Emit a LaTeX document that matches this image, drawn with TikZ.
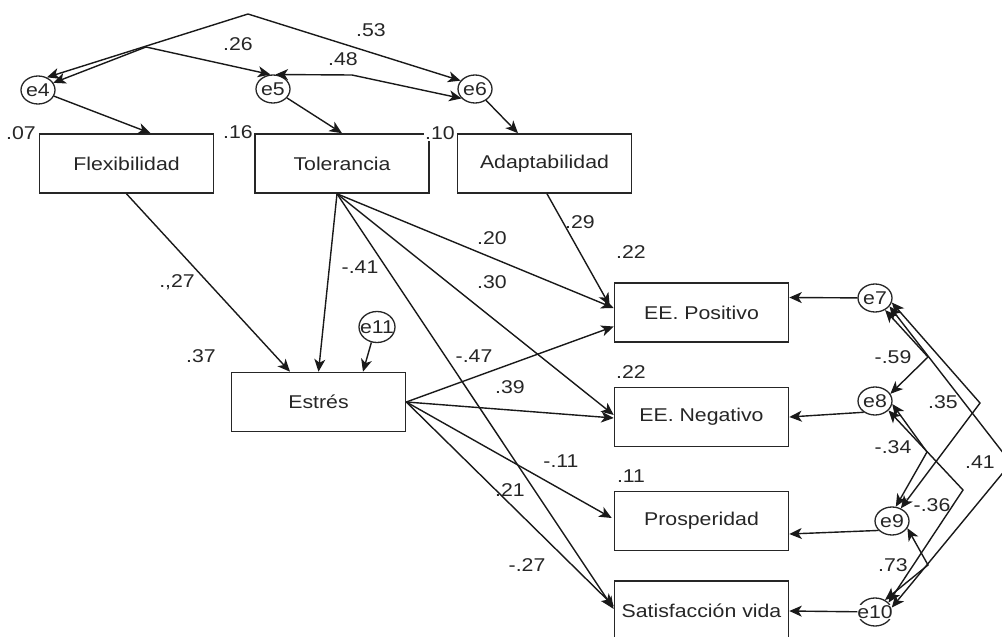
\documentclass[tikz,border=0pt]{standalone}
\usepackage{fontspec}
\setmainfont{Liberation Sans}[FakeStretch=1.15]
\usetikzlibrary{arrows.meta,calc,shapes.geometric}
\begin{document}
\begin{tikzpicture}[x=1pt,y=-1pt,
  every node/.style={font=\fontsize{18.5}{20}\selectfont, inner sep=0pt, text=black!85},
  box/.style={draw=black!85, line width=1.6pt, minimum width=174pt, minimum height=59pt},
  err/.style={draw=black!85, ellipse, line width=1.3pt, minimum width=34pt, minimum height=28pt},
  etxt/.style={inner sep=0pt},
  lab/.style={},
  tip/.tip={Stealth[length=12.5pt,width=11pt,inset=3.5pt]},
  arr/.style={draw=black!90, line width=1.4pt, -tip},
  cov/.style={draw=black!90, line width=1.4pt, tip-tip},
]
\useasboundingbox (0,0) rectangle (1002,637);
\clip (0,0) rectangle (1002,637);

% boxes
\node[box] (flex)  at (126.5,163.5) {Flexibilidad};
\node[box] (tol)   at (342,163.5) {Tolerancia};
\node[box] (adapt) at (544.5,163.5) {Adaptabilidad};
\node[box] (estres) at (318.5,402) {Estrés};
\node[box] (pos)  at (701.5,312.5) {EE. Positivo};
\node[box] (neg)  at (701.5,417) {EE. Negativo};
\node[box] (pros) at (701.5,521) {Prosperidad};
\node[box, minimum height=60pt] (sat) at (701.5,611) {Satisfacción vida};

% error terms
\node[err] (e4) at (38,90) {};
\node[err] (e5) at (273,89) {};
\node[err] (e6) at (475,89) {};
\node[err] (e7) at (875,298) {};
\node[err] (e8) at (875,401) {};
\node[err] (e9) at (892,521) {};
\node[err] (e10) at (875,612) {};
\node[err, minimum width=36pt, minimum height=31pt] (e11) at (377,327) {};
\node[etxt] (t4) at (e4) {e4};
\node[etxt] (t5) at (e5) {e5};
\node[etxt] (t6) at (e6) {e6};
\node[etxt] (t7) at (e7) {e7};
\node[etxt] (t8) at (e8) {e8};
\node[etxt] (t9) at (e9) {e9};
\node[etxt, fill=white] (t10) at (e10) {e10};
\node[etxt] (t11) at (e11) {e11};

% bend points
\coordinate (k53) at (248,14);
\coordinate (k26) at (146,47);
\coordinate (k48) at (352,75);
\coordinate (k59) at (928,357);
\coordinate (k35) at (980,403);
\coordinate (k41) at (1011,463);
\coordinate (k34) at (927,452);
\coordinate (k36) at (963,490);
\coordinate (k73) at (928,565);
\coordinate (tolO) at ($(tol.south)+(-5,0)$);

% top covariances
\draw[cov] (e4.55) -- (k53) -- (e6.150);
\draw[cov] (e4.25) -- (k26) -- (e5.100);
\draw[cov] (e5.80) -- (k48) -- (e6.215);

% error to exogenous
\draw[arr] (e4) -- ($(flex.north)+(24,0)$);
\draw[arr] (e5) -- (tol.north);
\draw[arr] (e6) -- ($(adapt.north)+(-26.5,0)$);
\draw[arr] (e11.250) -- ($(estres.north)+(44.5,0)$);

% structural paths
\draw[arr] (flex.south) -- ($(estres.north)+(-28.5,0)$);
\draw[arr] (tolO) -- (estres.north);
\draw[arr] (tolO) -- ($(pos.west)+(0,-4.5)$);
\draw[arr] (tolO) -- ($(neg.west)+(0,-2)$);
\draw[arr] (tolO) -- ($(sat.west)+(0,-2)$);
\draw[arr] ($(adapt.south)+(2.5,0)$) -- ($(pos.west)+(-4,-7)$);
\draw[arr] (estres.east) -- ($(pos.west)+(0,14)$);
\draw[arr] (estres.east) -- ($(neg.west)+(0,1)$);
\draw[arr] (estres.east) -- ($(pros.west)+(-2,-3)$);
\draw[arr] (estres.east) -- ($(sat.west)+(0,-5)$);

% residuals of endogenous
\draw[arr] (e7) -- ($(pos.east)+(0,-15)$);
\draw[arr] (e8.225) -- (neg.east);
\draw[arr] (e9.215) -- ($(pros.east)+(0,13)$);
\draw[arr] (e10) -- (sat.east);

% right covariances
\draw[cov] (e7.-50) -- (k59) -- (e8.25);
\draw[cov] (e7.-15) -- (k35) -- (e9.55);
\draw[cov] (e7.-30) -- (k41) -- (e10.15);
\draw[cov] (e8.-10) -- (k34) -- (e9.75);
\draw[cov] (e8.-35) -- (k36) -- (e10.35);
\draw[cov] (e9.-25) -- (k73) -- (e10.50);

% labels
\node[lab] (l53) at (371,30) {.53};
\node[lab] (l26) at (238,44) {.26};
\node[lab] (l48) at (343,59) {.48};
\node[lab] (l07) at (21,133) {.07};
\node[lab] (l16) at (238,132) {.16};
\node[lab, fill=white, inner sep=1pt] (l10) at (440,133) {.10};
\node[lab] (l27) at (177,282) {.,27};
\node[lab] (l37) at (201,356) {.37};
\node[lab] (l41a) at (360,267) {-.41};
\node[lab] (l20) at (492,238) {.20};
\node[lab] (l30) at (492,282) {.30};
\node[lab] (l29) at (580,222) {.29};
\node[lab] (l22a) at (631,252) {.22};
\node[lab] (l22b) at (631,372) {.22};
\node[lab] (l47) at (474,356) {-.47};
\node[lab] (l39) at (510,387) {.39};
\node[lab] (l11a) at (561,461) {-.11};
\node[lab] (l11b) at (631,476) {.11};
\node[lab] (l21) at (510,490) {.21};
\node[lab] (l27b) at (527,565) {-.27};
\node[lab] (l59) at (893,357) {-.59};
\node[lab] (l35) at (943,402) {.35};
\node[lab] (l34) at (893,447) {-.34};
\node[lab] (l41) at (980,462) {.41};
\node[lab] (l36) at (932,505) {-.36};
\node[lab] (l73) at (893,565) {.73};
\end{tikzpicture}
\end{document}
